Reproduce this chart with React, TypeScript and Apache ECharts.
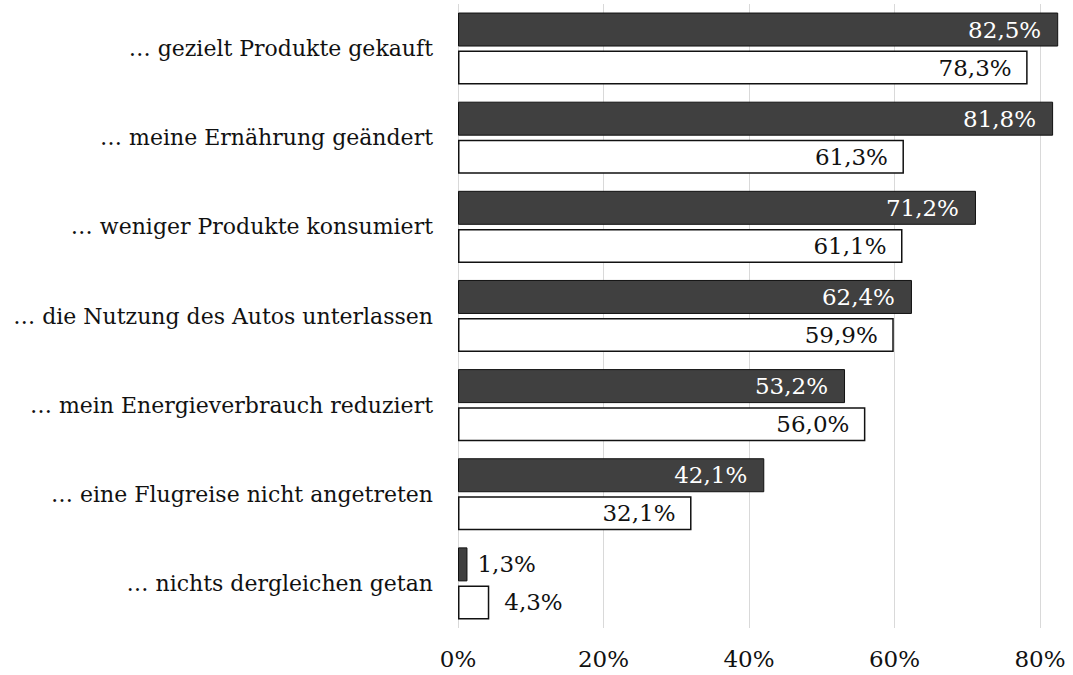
import React, { useEffect, useRef } from "react";
import * as echarts from "echarts";

const categories = [
  "… gezielt Produkte gekauft",
  "… meine Ernährung geändert",
  "… weniger Produkte konsumiert",
  "… die Nutzung des Autos unterlassen",
  "… mein Energieverbrauch reduziert",
  "… eine Flugreise nicht angetreten",
  "… nichts dergleichen getan",
];
const seriesA = [82.5, 81.8, 71.2, 62.4, 53.2, 42.1, 1.3];
const seriesB = [78.3, 61.3, 61.1, 59.9, 56.0, 32.1, 4.3];
const xTicks = [0, 20, 40, 60, 80];

const FONT = "DejaVu Serif";
const fmt = (v: number) => v.toFixed(1).replace(".", ",") + "%";

export default function App() {
  const ref = useRef<HTMLDivElement>(null);
  useEffect(() => {
    if (!ref.current) return;
    const chart = echarts.init(ref.current, undefined, { renderer: "svg" });
    const mk = (vals: number[], outsideDistance: number) =>
      vals.map((v) =>
        v < 10
          ? { value: v, label: { position: "right", color: "#111", distance: outsideDistance } }
          : v
      );
    chart.setOption({
      animation: false,
      textStyle: { fontFamily: FONT },
      grid: { left: 458, right: 33, top: 4, bottom: 47, containLabel: false },
      xAxis: {
        type: "value",
        min: xTicks[0],
        max: xTicks[xTicks.length - 1],
        interval: 20,
        axisLine: { show: false },
        axisTick: { show: false },
        splitLine: { show: true, lineStyle: { color: "#d9d9d9", width: 1 } },
        axisLabel: {
          formatter: (v: number) => v + "%",
          fontFamily: FONT,
          fontSize: 23,
          color: "#111",
          margin: 19,
        },
      },
      yAxis: {
        type: "category",
        data: categories,
        inverse: true,
        axisLine: { show: false },
        axisTick: { show: false },
        axisLabel: { fontFamily: FONT, fontSize: 22, color: "#111", margin: 25 },
      },
      series: [
        {
          type: "bar",
          data: mk(seriesA, 10),
          barWidth: 34,
          barGap: "12%",
          clip: false,
          itemStyle: { color: "#404040", borderColor: "#111", borderWidth: 1 },
          label: {
            show: true,
            position: "insideRight",
            distance: 17,
            color: "#fff",
            fontFamily: FONT,
            fontSize: 23,
            formatter: (p: any) => fmt(p.value),
          },
        },
        {
          type: "bar",
          data: mk(seriesB, 15),
          barWidth: 34,
          clip: false,
          itemStyle: { color: "#fff", borderColor: "#111", borderWidth: 1.5 },
          label: {
            show: true,
            position: "insideRight",
            distance: 16,
            color: "#111",
            fontFamily: FONT,
            fontSize: 23,
            formatter: (p: any) => fmt(p.value),
          },
        },
      ],
    });
    return () => chart.dispose();
  }, []);
  return (
    <div
      ref={ref}
      style={{ position: "absolute", left: 0, top: 0, width: 1073, height: 675, background: "#fff" }}
    />
  );
}
